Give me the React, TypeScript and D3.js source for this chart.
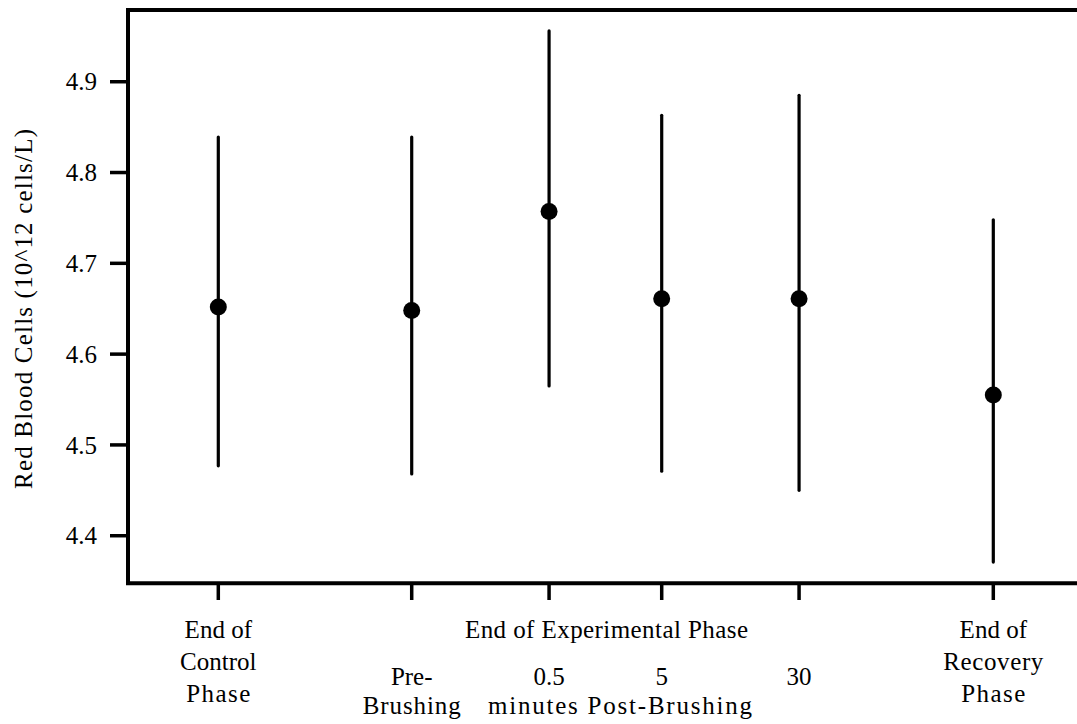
import React, { useEffect, useRef } from "react";
import * as d3 from "d3";

// Red blood cell counts (10^12 cells/L): mean with lower/upper interval ends
const categories = ["End of Control Phase", "Pre-Brushing", "0.5 min", "5 min", "30 min", "End of Recovery Phase"];
const slots = [1, 2.408, 3.408, 4.228, 5.228, 6.642];
const means = [4.652, 4.648, 4.757, 4.661, 4.661, 4.555];
const upper = [4.839, 4.839, 4.956, 4.863, 4.885, 4.748];
const lower = [4.477, 4.468, 4.565, 4.471, 4.45, 4.371];
const yTicks = [4.4, 4.5, 4.6, 4.7, 4.8, 4.9];

const W = 1077;
const H = 724;
const FONT = "Liberation Serif, Times New Roman, Times, DejaVu Serif, serif";

export default function App() {
  const ref = useRef<SVGSVGElement>(null);

  useEffect(() => {
    const svg = d3.select(ref.current);
    svg.selectAll("*").remove();

    const left = 128;
    const top = 10;
    const bottom = 583.3;

    const x = d3.scaleLinear().domain([1, 6.642]).range([218.3, 993.3]);
    const y = d3.scaleLinear().domain([4.3476, 4.979]).range([bottom, top]);

    // frame: top edge, left axis, bottom axis (open on the right)
    svg.append("path")
      .attr("d", `M${W + 10},${top} H${left} V${bottom} H${W + 10}`)
      .attr("fill", "none")
      .attr("stroke", "#000")
      .attr("stroke-width", 4);

    // y ticks and labels
    const yt = svg.append("g");
    yTicks.forEach((t) => {
      yt.append("line")
        .attr("x1", 110).attr("x2", left)
        .attr("y1", y(t)).attr("y2", y(t))
        .attr("stroke", "#000").attr("stroke-width", 3.5);
      yt.append("text")
        .attr("x", 97).attr("y", y(t))
        .attr("dy", "0.35em")
        .attr("text-anchor", "end")
        .style("font-family", FONT)
        .style("font-size", "25px")
        .text(d3.format(".1f")(t));
    });

    // x ticks
    slots.forEach((s) => {
      svg.append("line")
        .attr("x1", x(s)).attr("x2", x(s))
        .attr("y1", bottom).attr("y2", 600)
        .attr("stroke", "#000").attr("stroke-width", 3.5);
    });

    // error bars
    const g = svg.append("g");
    categories.forEach((c, i) => {
      g.append("line")
        .attr("x1", x(slots[i])).attr("x2", x(slots[i]))
        .attr("y1", y(upper[i])).attr("y2", y(lower[i]))
        .attr("stroke", "#000").attr("stroke-width", 3.2)
        .attr("stroke-linecap", "round");
      g.append("circle")
        .attr("cx", x(slots[i])).attr("cy", y(means[i]))
        .attr("r", 8.5).attr("fill", "#000");
    });

    // x-axis labels
    const lab = (txt: string, cx: number, by: number, len?: number) => {
      const t = svg.append("text")
        .attr("x", cx).attr("y", by)
        .attr("text-anchor", "middle")
        .style("font-family", FONT)
        .style("font-size", "25px")
        .text(txt);
      if (len) t.attr("textLength", len).attr("lengthAdjust", "spacing");
    };
    lab("End of", x(slots[0]), 638);
    lab("Control", x(slots[0]), 670);
    lab("Phase", x(slots[0]), 702, 64);
    lab("End of Experimental Phase", 606.5, 638, 283);
    lab("Pre-", x(slots[1]), 685);
    lab("Brushing", x(slots[1]), 714, 98);
    lab("0.5", x(slots[2]), 685);
    lab("5", x(slots[3]), 685);
    lab("30", x(slots[4]), 685);
    lab("minutes Post-Brushing", 620, 714, 264);
    lab("End of", x(slots[5]), 638);
    lab("Recovery", x(slots[5]), 670, 100);
    lab("Phase", x(slots[5]), 702, 64);

    // y-axis title
    svg.append("text")
      .attr("transform", `translate(32,309) rotate(-90)`)
      .attr("text-anchor", "middle")
      .style("font-family", FONT)
      .style("font-size", "25px")
      .attr("textLength", 360)
      .attr("lengthAdjust", "spacing")
      .text("Red Blood Cells (10^12 cells/L)");
  }, []);

  return (
    <svg
      ref={ref}
      width={W}
      height={H}
      style={{ position: "absolute", left: 0, top: 0, background: "#fff" }}
    />
  );
}
